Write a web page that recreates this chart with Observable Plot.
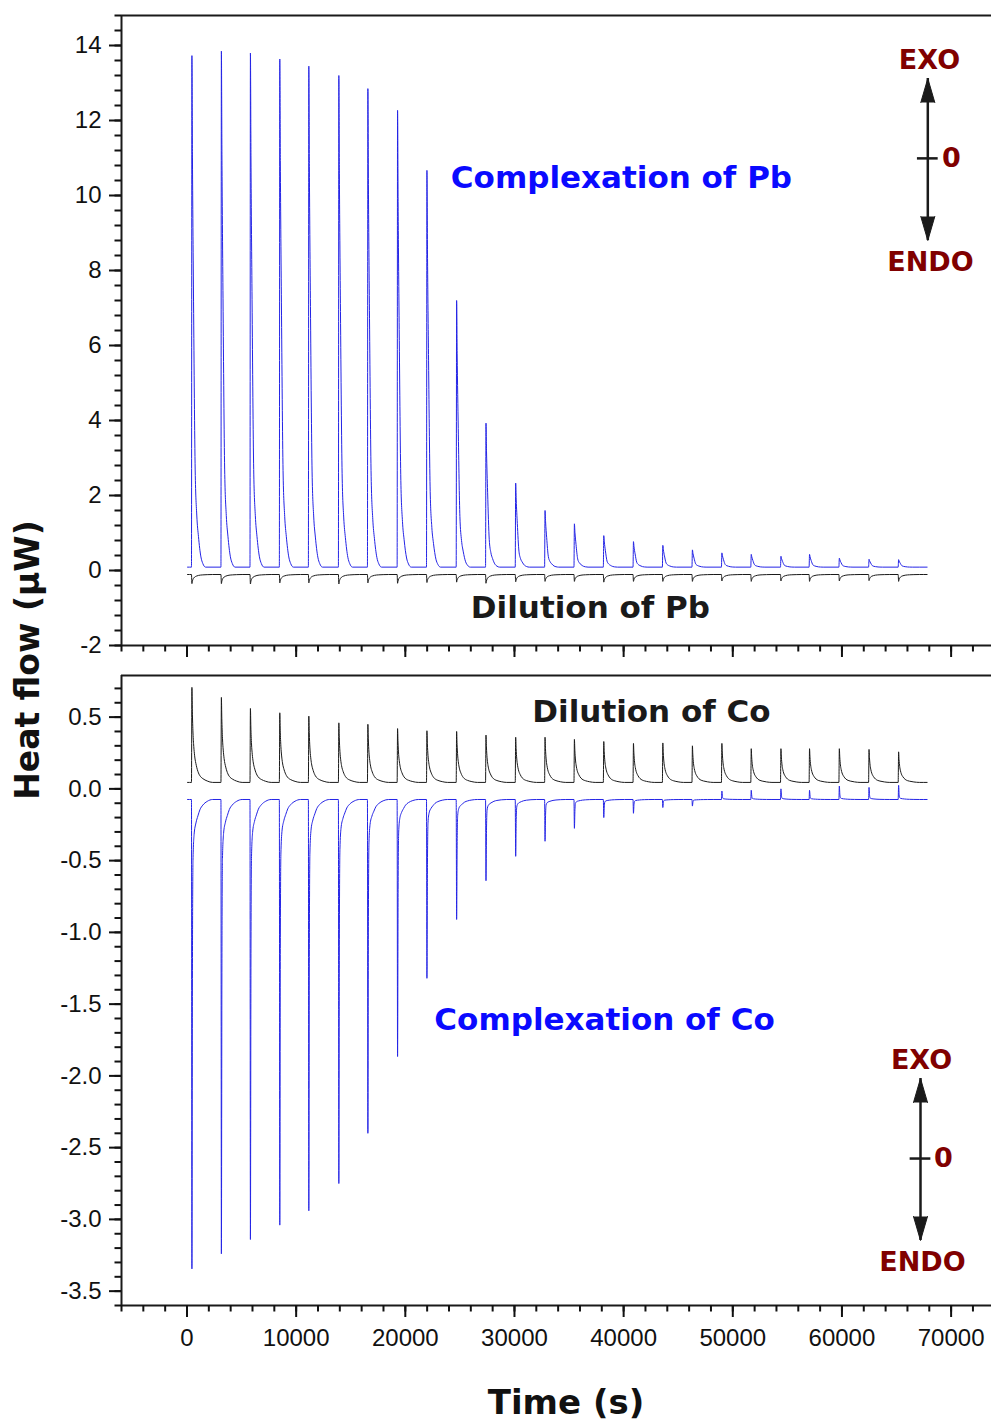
<!DOCTYPE html>
<html><head><meta charset="utf-8">
<script src="https://cdn.jsdelivr.net/npm/d3@7"></script>
<script src="https://cdn.jsdelivr.net/npm/@observablehq/plot@0.6"></script>
<style>
body{margin:0;background:#fff;}
#wrap{position:relative;width:991px;height:1423px;overflow:hidden;background:#fff;}
#topPanel,#botPanel{position:absolute;left:0;}
#topPanel{top:0}
#botPanel{top:660px}
.lbl{position:absolute;font-family:"DejaVu Sans",sans-serif;font-weight:bold;white-space:nowrap;line-height:1;color:#111;}
#ylab{left:27px;top:660px;font-size:33px;transform:translate(-50%,-50%) rotate(-90deg);}
#xlab{left:566px;top:1385px;font-size:34px;transform:translateX(-50%);}
</style></head><body>
<div id="wrap"><div id="topPanel"></div><div id="botPanel"></div>
<div class="lbl" id="ylab">Heat flow (μW)</div>
<div class="lbl" id="xlab">Time (s)</div>
</div>
<script>
// ---- data ----
const injectionTimes = [450, 3150, 5810, 8500, 11160, 13910, 16570, 19290, 21980, 24700, 27390, 30110, 32800, 35490, 38180, 40900, 43590, 46300, 49000, 51690, 54410, 57030, 59760, 62480, 65190];
const traceStart = 50;
const traceEnd = 67800;

// Top panel (Pb)
const pbComplexBaseline = 0.09;
const pbComplexPeaks = [13.73, 13.85, 13.8, 13.64, 13.45, 13.2, 12.85, 12.27, 10.67, 7.2, 3.93, 2.33, 1.6, 1.245, 0.93, 0.77, 0.67, 0.55, 0.47, 0.43, 0.38, 0.43, 0.33, 0.30, 0.29];
const pbDilutionBaseline = -0.107;
const pbDilutionPeaks = [-0.35, -0.35, -0.36, -0.33, -0.33, -0.36, -0.33, -0.34, -0.32, -0.31, -0.34, -0.30, -0.29, -0.29, -0.31, -0.29, -0.29, -0.29, -0.28, -0.29, -0.28, -0.29, -0.28, -0.27, -0.29];

// Bottom panel (Co)
const coDilutionBaseline = 0.045;
const coDilutionPeaks = [0.707, 0.637, 0.56, 0.53, 0.507, 0.46, 0.45, 0.42, 0.405, 0.40, 0.375, 0.36, 0.36, 0.345, 0.33, 0.317, 0.32, 0.30, 0.317, 0.28, 0.28, 0.28, 0.28, 0.275, 0.258];
const coComplexBaseline = -0.074;
const coComplexPeaks = [-3.345, -3.24, -3.14, -3.04, -2.94, -2.75, -2.40, -1.865, -1.32, -0.91, -0.64, -0.47, -0.365, -0.275, -0.2, -0.17, -0.13, -0.12, -0.015, -0.01, 0.0, -0.01, 0.02, 0.01, 0.025];

// peak shapes: time offset from peak (s) and fraction of peak height
const pbPeakOffsets = [-40, 0, 50, 150, 300, 450, 600, 825, 1000, 1250];
const pbPeakShape   = [0, 1, 0.8, 0.52, 0.19, 0.1, 0.06, 0.02, 0.007, 0];
const dilPeakOffsets = [-40, 0, 40, 100, 170, 250, 400, 600, 800, 1000, 1400, 1900];
const dilPeakShape   = [0, 1, 0.75, 0.52, 0.38, 0.28, 0.18, 0.1, 0.06, 0.04, 0.015, 0];
const coPeakOffsets = [-40, 0, 50, 100, 200, 370, 550, 730, 1000, 1400, 1900];
const coPeakShape   = [0, 1, 0.35, 0.13, 0.075, 0.05, 0.035, 0.022, 0.012, 0.004, 0];

// axis ticks
const xTicks = [0, 10000, 20000, 30000, 40000, 50000, 60000, 70000];
const yTicksTop = [-2, 0, 2, 4, 6, 8, 10, 12, 14];
const yTicksBottom = [-3.5, -3.0, -2.5, -2.0, -1.5, -1.0, -0.5, 0.0, 0.5];

// ---- build traces ----
function trace(peaks, base, offs, shape) {
  const pts = [{t: traceStart, v: base}];
  injectionTimes.forEach((t0, i) => {
    offs.forEach((o, k) => pts.push({t: t0 + o, v: base + (peaks[i] - base) * shape[k]}));
  });
  pts.push({t: traceEnd, v: base});
  return pts;
}
const pbComplex = trace(pbComplexPeaks, pbComplexBaseline, pbPeakOffsets, pbPeakShape);
const pbDilution = trace(pbDilutionPeaks, pbDilutionBaseline, dilPeakOffsets, dilPeakShape);
const coDilution = trace(coDilutionPeaks, coDilutionBaseline, dilPeakOffsets, dilPeakShape);
const coComplex = trace(coComplexPeaks, coComplexBaseline, coPeakOffsets, coPeakShape);

const BLUE = "#2424e6", BLACK = "#1a1a1a", RED = "#800000", LABEL_BLUE = "#0a0aff";
const xDomain = [-6000, 73700];
const minorX = d3.range(-6000, 73701, 2000);
const common = {
  width: 991, marginLeft: 121, marginRight: 0, marginTop: 15,
  style: {fontFamily: "'Liberation Sans', Arial, sans-serif", fontSize: "24px", color: "#111", background: "white", overflow: "visible"}
};
const lblFont = {fontFamily: "DejaVu Sans", fontWeight: "bold"};
const noText = () => "";

function exoEndo(xArrow, yMid, yUp, yDown, xText, yExo, yEndo, xZero, tickHalf) {
  return [
    Plot.ruleX([xArrow], {y1: yDown, y2: yUp, stroke: BLACK, strokeWidth: 2.5}),
    Plot.vector([{x: xArrow, y: yUp}], {x: "x", y: "y", length: 24, rotate: 0, r: 7, shape: "spike", anchor: "end", fill: BLACK, stroke: BLACK, strokeWidth: 1}),
    Plot.vector([{x: xArrow, y: yDown}], {x: "x", y: "y", length: 24, rotate: 180, r: 7, shape: "spike", anchor: "end", fill: BLACK, stroke: BLACK, strokeWidth: 1}),
    Plot.ruleY([yMid], {x1: xArrow - tickHalf, x2: xArrow + tickHalf, stroke: BLACK, strokeWidth: 2.5}),
    Plot.text(["EXO"], {x: xText, y: yExo, text: d => d, fill: RED, fontSize: 27, ...lblFont}),
    Plot.text(["0"], {x: xZero, y: yMid, text: d => d, fill: RED, fontSize: 27, ...lblFont}),
    Plot.text(["ENDO"], {x: xText + 90, y: yEndo, text: d => d, fill: RED, fontSize: 27, ...lblFont})
  ];
}

// ---- top panel ----
const topPlot = Plot.plot({
  ...common,
  height: 660, marginBottom: 15,
  x: {domain: xDomain},
  y: {domain: [-2, 14.8]},
  marks: [
    Plot.line(pbDilution, {x: "t", y: "v", stroke: BLACK, strokeWidth: 1, curve: "monotone-x"}),
    Plot.line(pbComplex, {x: "t", y: "v", stroke: BLUE, strokeWidth: 1, curve: "monotone-x"}),
    Plot.ruleX([xDomain[0]], {stroke: BLACK, strokeWidth: 2}),
    Plot.ruleY([-2], {stroke: BLACK, strokeWidth: 2}),
    Plot.ruleY([14.8], {stroke: BLACK, strokeWidth: 2}),
    Plot.axisY({ticks: yTicksTop, tickSize: 12, tickPadding: 8, strokeWidth: 2, label: null, tickFormat: d => String(d)}),
    Plot.axisY({ticks: d3.range(-2, 14.81, 0.4), tickSize: 6.5, strokeWidth: 2, label: null, tickFormat: noText}),
    Plot.axisX({ticks: xTicks, tickSize: 12, strokeWidth: 2, label: null, tickFormat: noText}),
    Plot.axisX({ticks: minorX, tickSize: 6.5, strokeWidth: 2, label: null, tickFormat: noText}),
    Plot.text(["Complexation of Pb"], {x: 39800, y: 10.47, text: d => d, fill: LABEL_BLUE, fontSize: 31, ...lblFont}),
    Plot.text(["Dilution of Pb"], {x: 36960, y: -1.01, text: d => d, fill: BLACK, fontSize: 31, ...lblFont}),
    ...exoEndo(67865, 10.99, 13.12, 8.8, 68020, 13.6, 8.21, 70035, 950)
  ]
});
document.getElementById("topPanel").appendChild(topPlot);

// ---- bottom panel ----
const botPlot = Plot.plot({
  ...common,
  height: 763, marginBottom: 118,
  x: {domain: xDomain},
  y: {domain: [-3.6, 0.79]},
  marks: [
    Plot.line(coDilution, {x: "t", y: "v", stroke: BLACK, strokeWidth: 1, curve: "monotone-x"}),
    Plot.line(coComplex, {x: "t", y: "v", stroke: BLUE, strokeWidth: 1, curve: "monotone-x"}),
    Plot.ruleX([xDomain[0]], {stroke: BLACK, strokeWidth: 2}),
    Plot.ruleY([-3.6], {stroke: BLACK, strokeWidth: 2}),
    Plot.ruleY([0.79], {stroke: BLACK, strokeWidth: 2}),
    Plot.axisY({ticks: yTicksBottom, tickSize: 12, tickPadding: 8, strokeWidth: 2, label: null, tickFormat: d => d.toFixed(1)}),
    Plot.axisY({ticks: d3.range(-3.6, 0.791, 0.1), tickSize: 6.5, strokeWidth: 2, label: null, tickFormat: noText}),
    Plot.axisX({ticks: xTicks, tickSize: 12, tickPadding: 11, strokeWidth: 2, label: null, tickFormat: d => String(d)}),
    Plot.axisX({ticks: minorX, tickSize: 6.5, strokeWidth: 2, label: null, tickFormat: noText}),
    Plot.text(["Dilution of Co"], {x: 42550, y: 0.532, text: d => d, fill: BLACK, fontSize: 31, ...lblFont}),
    Plot.text(["Complexation of Co"], {x: 38250, y: -1.614, text: d => d, fill: LABEL_BLUE, fontSize: 31, ...lblFont}),
    ...exoEndo(67196, -2.576, -2.018, -3.147, 67290, -1.893, -3.301, 69300, 950)
  ]
});
document.getElementById("botPanel").appendChild(botPlot);
</script>
</body></html>
